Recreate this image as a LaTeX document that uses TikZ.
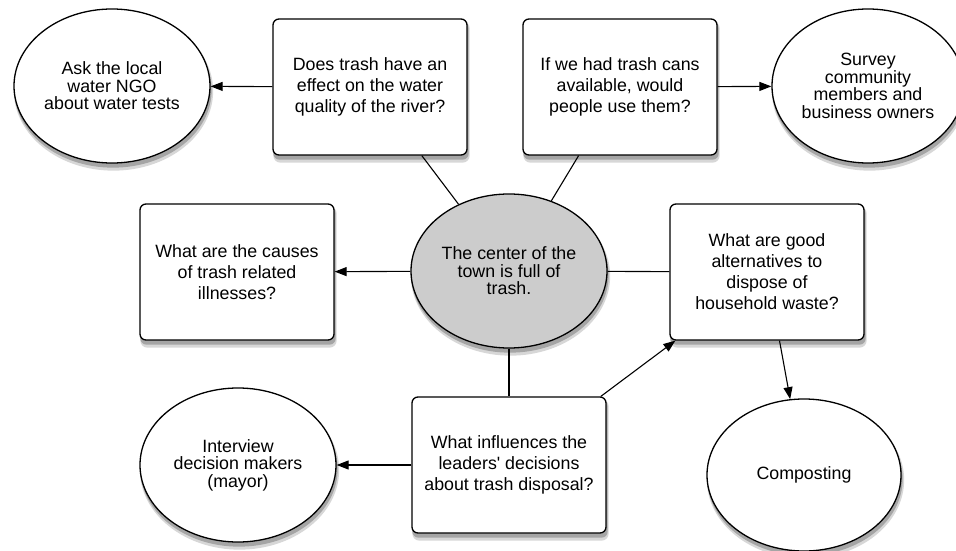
\documentclass[tikz,border=0pt]{standalone}
\usepackage{fontspec}
\setmainfont{Liberation Sans}
\usetikzlibrary{arrows.meta,shapes.geometric,backgrounds,calc}

\definecolor{centergray}{RGB}{204,204,204}
\definecolor{shadowgray}{RGB}{165,165,165}
\definecolor{shadowlight}{RGB}{215,215,215}

\begin{document}
\begin{tikzpicture}[x=1pt,y=1pt,->,>={Triangle[length=12pt,width=9pt]},
  line width=1.1pt,
  question/.style={rectangle,rounded corners=6pt,draw,fill=white,
    align=center,minimum width=194pt,minimum height=136pt,line width=1.3pt,
    font=\fontsize{17.8}{21}\selectfont},
  action/.style={ellipse,draw,fill=white,inner sep=0pt,align=center,
    minimum width=196pt,minimum height=154pt,line width=1.3pt,
    font=\fontsize{17.8}{17.5}\selectfont},
  problem/.style={action,fill=centergray}]

  \useasboundingbox (0,0) rectangle (956,550);

  \node[problem] (TOWN) at (509,279) {The center of the\\town is full of\\trash.};
  \node[question] (WATERQ) at (370,463) {Does trash have an\\effect on the water\\quality of the river?};
  \node[question] (CANSQ) at (620,463) {If we had trash cans\\available, would\\people use them?};
  \node[question] (CAUSESQ) at (237,278) {What are the causes\\of trash related\\illnesses?};
  \node[question] (ALTQ) at (767,278) {What are good\\alternatives to\\dispose of\\household waste?};
  \node[question] (LEADQ) at (509,85) {What influences the\\leaders\textquotesingle{} decisions\\about trash disposal?};
  \node[action] (ASK) at (112,464) {Ask the local\\water NGO\\about water tests};
  \node[action,minimum width=192pt] (SURVEY) at (868,464) {Survey\\community\\members and\\business owners};
  \node[action] (INTERVIEW) at (238,85) {Interview\\decision makers\\(mayor)};
  \node[action,minimum width=194pt,minimum height=152pt] (COMPOST) at (804,75) {Composting};

  \path
    (TOWN) edge[-] (WATERQ)
    (TOWN) edge[-] (CANSQ)
    (TOWN) edge[-] (ALTQ)
    (TOWN) edge[-] (LEADQ)
    (TOWN) edge (CAUSESQ)
    (WATERQ) edge (ASK)
    (CANSQ) edge (SURVEY)
    (LEADQ) edge (INTERVIEW)
    (LEADQ) edge (ALTQ)
    (ALTQ) edge (COMPOST)
    ;

  % soft shadows under the shapes
  \begin{pgfonlayer}{background}
    \foreach \shp in {WATERQ,CANSQ,CAUSESQ,ALTQ,LEADQ} {
      \fill[shadowlight,rounded corners=7pt]
        ([shift={(1,-7)}]\shp.south west) rectangle ([shift={(2,-3)}]\shp.north east);
      \fill[shadowgray,rounded corners=6pt]
        ([shift={(1,-4)}]\shp.south west) rectangle ([shift={(1,-4)}]\shp.north east);
    }
    \foreach \shp in {TOWN,ASK,SURVEY,INTERVIEW,COMPOST} {
      \fill[shadowlight] let \p1=(\shp.east), \p2=(\shp.north), \p3=(\shp.center) in
        ([shift={(1.5,-5)}]\shp.center) ellipse [x radius=\x1-\x3+1, y radius=\y2-\y3+2];
      \fill[shadowgray] let \p1=(\shp.east), \p2=(\shp.north), \p3=(\shp.center) in
        ([shift={(1,-4)}]\shp.center) ellipse [x radius=\x1-\x3, y radius=\y2-\y3];
    }
  \end{pgfonlayer}
\end{tikzpicture}
\end{document}
